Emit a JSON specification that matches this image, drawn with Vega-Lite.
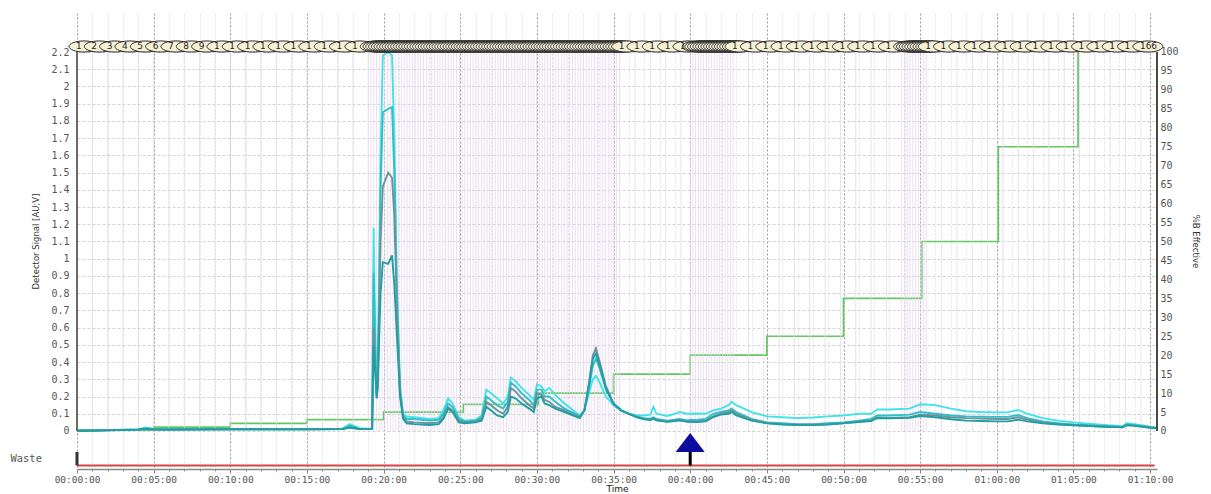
{
  "$schema": "https://vega.github.io/schema/vega-lite/v6.json",
  "width": 1080,
  "height": 456,
  "autosize": {"type": "none"},
  "padding": {"left": 77, "top": 13, "right": 54, "bottom": 25},
  "background": "white",
  "config": {"view": {"stroke": null}, "font": "DejaVu Sans", "axis": {"labelOverlap": false}},
  "datasets": {
    "traces": [
      {"t":0,"A":0,"B":0,"C":0,"D":0},
      {"t":2,"A":0.005,"B":0.005,"C":0.004,"D":0.004},
      {"t":4,"A":0.01,"B":0.009,"C":0.008,"D":0.008},
      {"t":4.5,"A":0.02,"B":0.016,"C":0.012,"D":0.012},
      {"t":5,"A":0.012,"B":0.01,"C":0.009,"D":0.009},
      {"t":6,"A":0.01,"B":0.009,"C":0.009,"D":0.009},
      {"t":10,"A":0.012,"B":0.01,"C":0.01,"D":0.01},
      {"t":15,"A":0.012,"B":0.01,"C":0.01,"D":0.01},
      {"t":17.3,"A":0.013,"B":0.012,"C":0.011,"D":0.011},
      {"t":17.8,"A":0.04,"B":0.03,"C":0.02,"D":0.02},
      {"t":18.4,"A":0.016,"B":0.013,"C":0.012,"D":0.012},
      {"t":19.25,"A":0.012,"B":0.012,"C":0.011,"D":0.011},
      {"t":19.35,"A":1.18,"B":0.92,"C":0.6,"D":0.5},
      {"t":19.45,"A":0.6,"B":0.5,"C":0.4,"D":0.35},
      {"t":19.55,"A":0.22,"B":0.2,"C":0.19,"D":0.19},
      {"t":19.62,"A":0.3,"B":0.3,"C":0.28,"D":0.26},
      {"t":19.8,"A":1.6,"B":1.4,"C":1.1,"D":0.8},
      {"t":19.95,"A":2.18,"B":1.85,"C":1.42,"D":0.98},
      {"t":20.3,"A":2.2,"B":1.87,"C":1.5,"D":0.97},
      {"t":20.55,"A":2.18,"B":1.88,"C":1.47,"D":1.02},
      {"t":20.7,"A":1.7,"B":1.5,"C":1.25,"D":0.85},
      {"t":20.87,"A":0.84,"B":0.78,"C":0.7,"D":0.55},
      {"t":21.07,"A":0.26,"B":0.24,"C":0.22,"D":0.2},
      {"t":21.27,"A":0.1,"B":0.09,"C":0.08,"D":0.07},
      {"t":21.5,"A":0.085,"B":0.07,"C":0.055,"D":0.045},
      {"t":22,"A":0.08,"B":0.07,"C":0.05,"D":0.04},
      {"t":23,"A":0.07,"B":0.06,"C":0.045,"D":0.035},
      {"t":23.6,"A":0.075,"B":0.065,"C":0.05,"D":0.04},
      {"t":23.9,"A":0.12,"B":0.1,"C":0.08,"D":0.07},
      {"t":24.2,"A":0.19,"B":0.16,"C":0.14,"D":0.13},
      {"t":24.5,"A":0.16,"B":0.14,"C":0.12,"D":0.11},
      {"t":24.9,"A":0.08,"B":0.07,"C":0.06,"D":0.05},
      {"t":25.3,"A":0.06,"B":0.055,"C":0.05,"D":0.045},
      {"t":26,"A":0.065,"B":0.06,"C":0.055,"D":0.05},
      {"t":26.4,"A":0.09,"B":0.08,"C":0.07,"D":0.06},
      {"t":26.7,"A":0.24,"B":0.2,"C":0.17,"D":0.14},
      {"t":27,"A":0.22,"B":0.18,"C":0.15,"D":0.12},
      {"t":27.4,"A":0.19,"B":0.15,"C":0.12,"D":0.09},
      {"t":27.8,"A":0.16,"B":0.13,"C":0.1,"D":0.08},
      {"t":28.1,"A":0.2,"B":0.17,"C":0.14,"D":0.11},
      {"t":28.3,"A":0.31,"B":0.28,"C":0.25,"D":0.2},
      {"t":28.6,"A":0.29,"B":0.26,"C":0.23,"D":0.19},
      {"t":29,"A":0.25,"B":0.22,"C":0.19,"D":0.16},
      {"t":29.5,"A":0.21,"B":0.18,"C":0.15,"D":0.13},
      {"t":29.8,"A":0.18,"B":0.15,"C":0.13,"D":0.11},
      {"t":30,"A":0.27,"B":0.24,"C":0.22,"D":0.19},
      {"t":30.3,"A":0.26,"B":0.24,"C":0.21,"D":0.2},
      {"t":30.5,"A":0.23,"B":0.2,"C":0.18,"D":0.16},
      {"t":30.8,"A":0.25,"B":0.2,"C":0.17,"D":0.15},
      {"t":31.2,"A":0.21,"B":0.17,"C":0.14,"D":0.13},
      {"t":31.8,"A":0.16,"B":0.13,"C":0.12,"D":0.11},
      {"t":32.5,"A":0.11,"B":0.1,"C":0.09,"D":0.085},
      {"t":32.8,"A":0.09,"B":0.085,"C":0.08,"D":0.075},
      {"t":33.1,"A":0.12,"B":0.12,"C":0.12,"D":0.12},
      {"t":33.4,"A":0.22,"B":0.25,"C":0.28,"D":0.27},
      {"t":33.65,"A":0.3,"B":0.38,"C":0.44,"D":0.42},
      {"t":33.85,"A":0.32,"B":0.42,"C":0.48,"D":0.45},
      {"t":34.1,"A":0.28,"B":0.36,"C":0.4,"D":0.38},
      {"t":34.5,"A":0.2,"B":0.24,"C":0.26,"D":0.25},
      {"t":35,"A":0.15,"B":0.16,"C":0.16,"D":0.155},
      {"t":35.5,"A":0.12,"B":0.12,"C":0.12,"D":0.12},
      {"t":36,"A":0.1,"B":0.1,"C":0.1,"D":0.1},
      {"t":36.5,"A":0.092,"B":0.085,"C":0.08,"D":0.08},
      {"t":37,"A":0.09,"B":0.075,"C":0.07,"D":0.068},
      {"t":37.4,"A":0.095,"B":0.072,"C":0.066,"D":0.064},
      {"t":37.6,"A":0.14,"B":0.08,"C":0.072,"D":0.07},
      {"t":37.8,"A":0.1,"B":0.07,"C":0.064,"D":0.062},
      {"t":38.5,"A":0.087,"B":0.06,"C":0.055,"D":0.053},
      {"t":39,"A":0.1,"B":0.065,"C":0.06,"D":0.058},
      {"t":39.3,"A":0.11,"B":0.07,"C":0.064,"D":0.062},
      {"t":39.8,"A":0.1,"B":0.062,"C":0.056,"D":0.054},
      {"t":40.5,"A":0.102,"B":0.065,"C":0.055,"D":0.052},
      {"t":41,"A":0.1,"B":0.07,"C":0.06,"D":0.056},
      {"t":41.5,"A":0.12,"B":0.1,"C":0.085,"D":0.08},
      {"t":42,"A":0.13,"B":0.11,"C":0.1,"D":0.095},
      {"t":42.5,"A":0.15,"B":0.12,"C":0.11,"D":0.1},
      {"t":42.7,"A":0.17,"B":0.13,"C":0.12,"D":0.11},
      {"t":43,"A":0.15,"B":0.11,"C":0.1,"D":0.09},
      {"t":44,"A":0.11,"B":0.07,"C":0.065,"D":0.06},
      {"t":45,"A":0.085,"B":0.05,"C":0.046,"D":0.044},
      {"t":46,"A":0.08,"B":0.045,"C":0.04,"D":0.038},
      {"t":47,"A":0.075,"B":0.04,"C":0.036,"D":0.034},
      {"t":48,"A":0.078,"B":0.04,"C":0.036,"D":0.034},
      {"t":49,"A":0.085,"B":0.045,"C":0.04,"D":0.038},
      {"t":50,"A":0.09,"B":0.05,"C":0.046,"D":0.044},
      {"t":51,"A":0.1,"B":0.06,"C":0.055,"D":0.052},
      {"t":51.8,"A":0.1,"B":0.07,"C":0.06,"D":0.058},
      {"t":52.2,"A":0.125,"B":0.09,"C":0.078,"D":0.075},
      {"t":53,"A":0.125,"B":0.09,"C":0.076,"D":0.073},
      {"t":54.3,"A":0.13,"B":0.095,"C":0.08,"D":0.077},
      {"t":55,"A":0.155,"B":0.11,"C":0.095,"D":0.087},
      {"t":56,"A":0.15,"B":0.1,"C":0.09,"D":0.08},
      {"t":57,"A":0.13,"B":0.09,"C":0.08,"D":0.068},
      {"t":58,"A":0.115,"B":0.085,"C":0.075,"D":0.06},
      {"t":59,"A":0.11,"B":0.083,"C":0.072,"D":0.058},
      {"t":60,"A":0.108,"B":0.082,"C":0.07,"D":0.056},
      {"t":60.7,"A":0.108,"B":0.082,"C":0.07,"D":0.056},
      {"t":61.4,"A":0.122,"B":0.093,"C":0.08,"D":0.066},
      {"t":62,"A":0.1,"B":0.075,"C":0.066,"D":0.056},
      {"t":63,"A":0.075,"B":0.055,"C":0.048,"D":0.044},
      {"t":64,"A":0.06,"B":0.045,"C":0.04,"D":0.038},
      {"t":65,"A":0.05,"B":0.038,"C":0.035,"D":0.033},
      {"t":66,"A":0.042,"B":0.033,"C":0.03,"D":0.029},
      {"t":67,"A":0.035,"B":0.028,"C":0.026,"D":0.025},
      {"t":68.2,"A":0.028,"B":0.024,"C":0.022,"D":0.021},
      {"t":68.5,"A":0.045,"B":0.038,"C":0.035,"D":0.034},
      {"t":69,"A":0.04,"B":0.034,"C":0.031,"D":0.03},
      {"t":70,"A":0.025,"B":0.022,"C":0.02,"D":0.019},
      {"t":70.4,"A":0.02,"B":0.018,"C":0.017,"D":0.016}
    ],
    "gradient": [
      {"t":0,"b":0.3},{"t":5,"b":1},{"t":10,"b":2},{"t":15,"b":3},{"t":20,"b":5},
      {"t":25.2,"b":7},{"t":30.1,"b":10},{"t":35,"b":15},{"t":40,"b":20},{"t":45,"b":25},
      {"t":50,"b":35},{"t":55.1,"b":50},{"t":60.1,"b":75},{"t":65.3,"b":100}
    ],
    "fractions": [
      {"frac":1,"start":0,"label":"1"},{"frac":2,"start":1,"label":"2"},{"frac":3,"start":2,"label":"3"},
      {"frac":4,"start":3,"label":"4"},{"frac":5,"start":4,"label":"5"},{"frac":6,"start":5,"label":"6"},
      {"frac":7,"start":6,"label":"7"},{"frac":8,"start":7,"label":"8"},{"frac":9,"start":8,"label":"9"},
      {"frac":10,"start":9,"label":"1"},{"frac":11,"start":10,"label":"1"},{"frac":12,"start":11,"label":"1"},
      {"frac":13,"start":12,"label":"1"},{"frac":14,"start":13,"label":"1"},{"frac":15,"start":14,"label":"1"},
      {"frac":16,"start":15,"label":"1"},{"frac":17,"start":16,"label":"1"},{"frac":18,"start":17,"label":"1"},
      {"frac":19,"start":18,"label":"1"},
      {"frac":20,"start":19.0},{"frac":21,"start":19.18},{"frac":22,"start":19.36},{"frac":23,"start":19.54},
      {"frac":24,"start":19.72},{"frac":25,"start":19.9},{"frac":26,"start":20.08},{"frac":27,"start":20.26},
      {"frac":28,"start":20.44},{"frac":29,"start":20.62},{"frac":30,"start":20.8},{"frac":31,"start":20.98},
      {"frac":32,"start":21.16},{"frac":33,"start":21.34},{"frac":34,"start":21.52},{"frac":35,"start":21.7},
      {"frac":36,"start":21.88},{"frac":37,"start":22.06},{"frac":38,"start":22.24},{"frac":39,"start":22.42},
      {"frac":40,"start":22.6},{"frac":41,"start":22.78},{"frac":42,"start":22.96},{"frac":43,"start":23.14},
      {"frac":44,"start":23.32},{"frac":45,"start":23.5},{"frac":46,"start":23.68},{"frac":47,"start":23.86},
      {"frac":48,"start":24.04},{"frac":49,"start":24.22},{"frac":50,"start":24.4},{"frac":51,"start":24.58},
      {"frac":52,"start":24.76},{"frac":53,"start":24.94},{"frac":54,"start":25.12},{"frac":55,"start":25.3},
      {"frac":56,"start":25.48},{"frac":57,"start":25.66},{"frac":58,"start":25.84},{"frac":59,"start":26.02},
      {"frac":60,"start":26.2},{"frac":61,"start":26.38},{"frac":62,"start":26.56},{"frac":63,"start":26.74},
      {"frac":64,"start":26.92},{"frac":65,"start":27.1},{"frac":66,"start":27.28},{"frac":67,"start":27.46},
      {"frac":68,"start":27.64},{"frac":69,"start":27.82},{"frac":70,"start":28.0},{"frac":71,"start":28.18},
      {"frac":72,"start":28.36},{"frac":73,"start":28.54},{"frac":74,"start":28.72},{"frac":75,"start":28.9},
      {"frac":76,"start":29.08},{"frac":77,"start":29.26},{"frac":78,"start":29.44},{"frac":79,"start":29.62},
      {"frac":80,"start":29.8},{"frac":81,"start":29.98},{"frac":82,"start":30.16},{"frac":83,"start":30.34},
      {"frac":84,"start":30.52},{"frac":85,"start":30.7},{"frac":86,"start":30.88},{"frac":87,"start":31.06},
      {"frac":88,"start":31.24},{"frac":89,"start":31.42},{"frac":90,"start":31.6},{"frac":91,"start":31.78},
      {"frac":92,"start":31.96},{"frac":93,"start":32.14},{"frac":94,"start":32.32},{"frac":95,"start":32.5},
      {"frac":96,"start":32.68},{"frac":97,"start":32.86},{"frac":98,"start":33.04},{"frac":99,"start":33.22},
      {"frac":100,"start":33.4},{"frac":101,"start":33.58},{"frac":102,"start":33.76},{"frac":103,"start":33.94},
      {"frac":104,"start":34.12},{"frac":105,"start":34.3},{"frac":106,"start":34.48},{"frac":107,"start":34.66},
      {"frac":108,"start":34.84},{"frac":109,"start":35.02},{"frac":110,"start":35.2},
      {"frac":111,"start":35.4,"label":"1"},{"frac":112,"start":36.4,"label":"1"},{"frac":113,"start":37.4,"label":"1"},
      {"frac":114,"start":38.4,"label":"1"},{"frac":115,"start":39.4,"label":"1"},
      {"frac":116,"start":40.0},{"frac":117,"start":40.175},{"frac":118,"start":40.35},{"frac":119,"start":40.525},
      {"frac":120,"start":40.7},{"frac":121,"start":40.875},{"frac":122,"start":41.05},{"frac":123,"start":41.225},
      {"frac":124,"start":41.4},{"frac":125,"start":41.575},{"frac":126,"start":41.75},{"frac":127,"start":41.925},
      {"frac":128,"start":42.1},{"frac":129,"start":42.275},{"frac":130,"start":42.45},{"frac":131,"start":42.625},
      {"frac":132,"start":42.8,"label":"1"},{"frac":133,"start":43.8,"label":"1"},{"frac":134,"start":44.8,"label":"1"},
      {"frac":135,"start":45.8,"label":"1"},{"frac":136,"start":46.8,"label":"1"},{"frac":137,"start":47.8,"label":"1"},
      {"frac":138,"start":48.8,"label":"1"},{"frac":139,"start":49.8,"label":"1"},{"frac":140,"start":50.8,"label":"1"},
      {"frac":141,"start":51.8,"label":"1"},{"frac":142,"start":52.8,"label":"1"},
      {"frac":143,"start":53.8},{"frac":144,"start":53.98},{"frac":145,"start":54.16},{"frac":146,"start":54.34},
      {"frac":147,"start":54.52},{"frac":148,"start":54.7},{"frac":149,"start":54.88},{"frac":150,"start":55.06},
      {"frac":151,"start":55.24},
      {"frac":152,"start":55.4,"label":"1"},{"frac":153,"start":56.4,"label":"1"},{"frac":154,"start":57.4,"label":"1"},
      {"frac":155,"start":58.4,"label":"1"},{"frac":156,"start":59.4,"label":"1"},{"frac":157,"start":60.4,"label":"1"},
      {"frac":158,"start":61.4,"label":"1"},{"frac":159,"start":62.4,"label":"1"},{"frac":160,"start":63.4,"label":"1"},
      {"frac":161,"start":64.4,"label":"1"},{"frac":162,"start":65.4,"label":"1"},{"frac":163,"start":66.4,"label":"1"},
      {"frac":164,"start":67.4,"label":"1"},{"frac":165,"start":68.4,"label":"1"},
      {"frac":166,"start":69.4,"label":"166"}
    ],
    "tracks": [{"track":"Waste","start":0,"end":70.3}],
    "events": [{"event":"Injection","t":40}]
  },
  "layer": [
    {
      "data": {"name": "gradient"},
      "mark": {"type": "line", "interpolate": "step-after", "color": "#62c862", "strokeWidth": 1.7},
      "encoding": {
        "x": {
          "field": "t", "type": "quantitative",
          "scale": {"domain": [0, 70.45], "nice": false, "zero": false},
          "axis": {
            "values": [0,1,2,3,4,5,6,7,8,9,10,11,12,13,14,15,16,17,18,19,20,21,22,23,24,25,26,27,28,29,30,31,32,33,34,35,36,37,38,39,40,41,42,43,44,45,46,47,48,49,50,51,52,53,54,55,56,57,58,59,60,61,62,63,64,65,66,67,68,69,70],
            "tickCount": 500,
            "labelExpr": "datum.value % 5 === 0 ? ((floor(datum.value/60) < 10 ? '0' : '') + floor(datum.value/60) + ':' + (datum.value % 60 < 10 ? '0' : '') + (datum.value % 60) + ':00') : ''",
            "labelOverlap": false,
            "labelFlush": false,
            "labelFont": "DejaVu Sans Mono",
            "labelFontSize": 9.5,
            "labelColor": "#555555",
            "labelPadding": 1,
            "title": "Time",
            "titleFont": "DejaVu Sans",
            "titleFontSize": 9,
            "titleFontWeight": "normal",
            "titleColor": "#222222",
            "titleY": 24,
            "titleBaseline": "bottom",
            "tickColor": "#888888",
            "tickSize": {"condition": {"test": "datum.value % 5 === 0", "value": 4}, "value": 2},
            "domainColor": "#888888",
            "domainWidth": 1.5,
            "grid": true,
            "gridColor": {"condition": {"test": "datum.value % 5 === 0", "value": "#9a9a9a"}, "value": "#e3e3e3"},
            "gridDash": [2, 2],
            "gridWidth": 1
          }
        },
        "y": {
          "field": "b", "type": "quantitative",
          "scale": {"domain": [-10.03, 110.29], "nice": false, "zero": false},
          "axis": {
            "orient": "right",
            "values": [0,5,10,15,20,25,30,35,40,45,50,55,60,65,70,75,80,85,90,95,100],
            "tickCount": 500,
            "format": "d",
            "labelOverlap": false,
            "title": "%B Effective",
            "titleFontSize": 8.5,
            "titleFontWeight": "normal",
            "titleColor": "#333333",
            "titlePadding": 12,
            "labelFont": "DejaVu Sans Mono",
            "labelFontSize": 10,
            "labelColor": "#555555",
            "labelPadding": 3,
            "ticks": false,
            "domain": false,
            "grid": false
          }
        }
      }
    },
    {
      "layer": [
        {
          "data": {"name": "fractions"},
          "mark": {"type": "rule", "color": "#e6d6ec", "strokeWidth": 0.8},
          "encoding": {
            "x": {"field": "start", "type": "quantitative", "scale": {"domain": [0, 70.45], "nice": false, "zero": false}},
            "y": {"datum": 0, "type": "quantitative", "scale": {"domain": [-0.2206, 2.4264], "nice": false, "zero": false}},
            "y2": {"datum": 2.2}
          }
        },
        {
          "data": {"name": "traces"},
          "transform": [{"fold": ["A", "B", "C", "D"], "as": ["run", "signal"]}],
          "mark": {"type": "line", "strokeWidth": 1.9, "interpolate": "linear"},
          "encoding": {
            "x": {"field": "t", "type": "quantitative", "scale": {"domain": [0, 70.45], "nice": false, "zero": false}},
            "y": {
              "field": "signal", "type": "quantitative",
              "scale": {"domain": [-0.2206, 2.4264], "nice": false, "zero": false},
              "axis": {
                "values": [0,0.1,0.2,0.3,0.4,0.5,0.6,0.7,0.8,0.9,1,1.1,1.2,1.3,1.4,1.5,1.6,1.7,1.8,1.9,2,2.1,2.2],
                "tickCount": 500,
                "labelOverlap": false,
                "format": ".2~f",
                "title": "Detector Signal [AU;V]",
                "titleFontSize": 8.5,
                "titleFontWeight": "normal",
                "titleColor": "#333333",
                "titlePadding": 10,
                "labelFont": "DejaVu Sans Mono",
                "labelFontSize": 10,
                "labelColor": "#555555",
                "labelPadding": 8,
                "ticks": false,
                "domain": false,
                "grid": true,
                "gridColor": "#d2d2d2",
                "gridDash": [3, 2]
              }
            },
            "color": {
              "field": "run", "type": "nominal",
              "scale": {"domain": ["A", "B", "C", "D"], "range": ["#42e2ea", "#30bfc8", "#6f9298", "#1f9ea6"]},
              "legend": null
            }
          }
        },
        {
          "data": {"values": [{}]},
          "mark": {"type": "rule", "color": "#6a6a6a", "strokeWidth": 2},
          "encoding": {
            "x": {"datum": 0, "type": "quantitative", "scale": {"domain": [0, 70.45], "nice": false, "zero": false}},
            "y": {"datum": 0, "type": "quantitative", "scale": {"domain": [-0.2206, 2.4264], "nice": false, "zero": false}},
            "y2": {"datum": 2.2}
          }
        },
        {
          "data": {"values": [{}]},
          "mark": {"type": "rule", "color": "#4a4a4a", "strokeWidth": 2},
          "encoding": {
            "x": {"datum": 70.45, "type": "quantitative", "scale": {"domain": [0, 70.45], "nice": false, "zero": false}},
            "y": {"datum": 0, "type": "quantitative", "scale": {"domain": [-0.2206, 2.4264], "nice": false, "zero": false}},
            "y2": {"datum": 2.2}
          }
        },
        {
          "data": {"name": "tracks"},
          "mark": {"type": "rule", "color": "#d64545", "strokeWidth": 2},
          "encoding": {
            "x": {"field": "start", "type": "quantitative", "scale": {"domain": [0, 70.45], "nice": false, "zero": false}},
            "x2": {"field": "end"},
            "y": {"datum": -0.2, "type": "quantitative", "scale": {"domain": [-0.2206, 2.4264], "nice": false, "zero": false}}
          }
        },
        {
          "data": {"name": "tracks"},
          "mark": {"type": "rule", "color": "#333333", "strokeWidth": 3},
          "encoding": {
            "x": {"field": "start", "type": "quantitative", "scale": {"domain": [0, 70.45], "nice": false, "zero": false}},
            "y": {"datum": -0.122, "type": "quantitative", "scale": {"domain": [-0.2206, 2.4264], "nice": false, "zero": false}},
            "y2": {"datum": -0.2}
          }
        },
        {
          "data": {"name": "tracks"},
          "mark": {"type": "text", "align": "right", "baseline": "middle", "xOffset": -35, "font": "DejaVu Sans Mono", "fontSize": 10.5, "color": "#555555"},
          "encoding": {
            "x": {"field": "start", "type": "quantitative", "scale": {"domain": [0, 70.45], "nice": false, "zero": false}},
            "y": {"datum": -0.163, "type": "quantitative", "scale": {"domain": [-0.2206, 2.4264], "nice": false, "zero": false}},
            "text": {"field": "track"}
          }
        },
        {
          "data": {"name": "events"},
          "mark": {"type": "rule", "color": "#000000", "strokeWidth": 3},
          "encoding": {
            "x": {"field": "t", "type": "quantitative", "scale": {"domain": [0, 70.45], "nice": false, "zero": false}},
            "y": {"datum": -0.115, "type": "quantitative", "scale": {"domain": [-0.2206, 2.4264], "nice": false, "zero": false}},
            "y2": {"datum": -0.2}
          }
        },
        {
          "data": {"name": "events"},
          "mark": {"type": "point", "shape": "M 0 -0.65 L 1 0.65 L -1 0.65 Z", "size": 841, "filled": true, "color": "#0c0ca0", "opacity": 1},
          "encoding": {
            "x": {"field": "t", "type": "quantitative", "scale": {"domain": [0, 70.45], "nice": false, "zero": false}},
            "y": {"datum": -0.067, "type": "quantitative", "scale": {"domain": [-0.2206, 2.4264], "nice": false, "zero": false}}
          }
        },
        {
          "data": {"name": "fractions"},
          "mark": {
            "type": "point",
            "shape": "M -1 0 C -1 -0.2043 -0.5523 -0.37 0 -0.37 C 0.5523 -0.37 1 -0.2043 1 0 C 1 0.2043 0.5523 0.37 0 0.37 C -0.5523 0.37 -1 0.2043 -1 0 Z",
            "size": 900,
            "filled": true,
            "fill": "#f6f0d4",
            "stroke": "#2a2a2a",
            "strokeWidth": 1,
            "opacity": 1,
            "xOffset": 7
          },
          "encoding": {
            "x": {"field": "start", "type": "quantitative", "scale": {"domain": [0, 70.45], "nice": false, "zero": false}},
            "y": {"datum": 2.232, "type": "quantitative", "scale": {"domain": [-0.2206, 2.4264], "nice": false, "zero": false}}
          }
        },
        {
          "data": {"name": "fractions"},
          "transform": [{"filter": "isValid(datum.label)"}],
          "mark": {"type": "text", "align": "left", "baseline": "middle", "xOffset": -1, "font": "DejaVu Sans", "fontSize": 9, "color": "#222222"},
          "encoding": {
            "x": {"field": "start", "type": "quantitative", "scale": {"domain": [0, 70.45], "nice": false, "zero": false}},
            "y": {"datum": 2.232, "type": "quantitative", "scale": {"domain": [-0.2206, 2.4264], "nice": false, "zero": false}},
            "text": {"field": "label"}
          }
        }
      ]
    }
  ],
  "resolve": {"scale": {"y": "independent"}, "axis": {"y": "independent"}}
}
